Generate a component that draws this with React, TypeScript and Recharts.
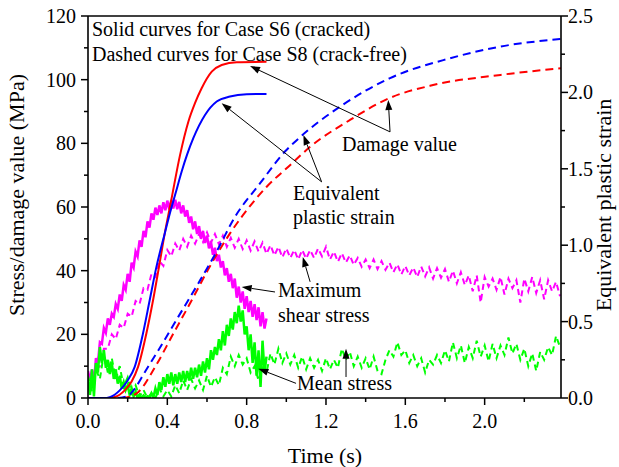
import React from 'react';
import { ComposedChart, Line, XAxis, YAxis, ReferenceLine } from 'recharts';

// ---------- axis ticks ----------
const xTicks = [0, 0.2, 0.4, 0.6, 0.8, 1.0, 1.2, 1.4, 1.6, 1.8, 2.0, 2.2];
const xMajor = [0, 0.4, 0.8, 1.2, 1.6, 2.0];
const leftTicks = [0, 10, 20, 30, 40, 50, 60, 70, 80, 90, 100, 110, 120];
const leftMajor = [0, 20, 40, 60, 80, 100, 120];
const rightTicks = [0, 0.25, 0.5, 0.75, 1.0, 1.25, 1.5, 1.75, 2.0, 2.25, 2.5];
const rightMajor = [0, 0.5, 1.0, 1.5, 2.0, 2.5];

// ---------- smooth curves ----------
// Damage value, Case S6 (red solid, left axis)
const damageS6T = [0, 0.1, 0.134, 0.185, 0.22, 0.252, 0.294, 0.328, 0.358, 0.387, 0.42, 0.464, 0.506, 0.54, 0.573, 0.624, 0.674, 0.75, 0.9];
const damageS6 = [0, 0, 0.3, 2.4, 5.2, 9.7, 20.2, 30.7, 41.2, 51.7, 62.2, 76.3, 86.8, 92.7, 97.3, 102.5, 104.6, 105.5, 105.6];
// Damage value, Case S8 (red dashed, left axis)
const damageS8T = [0.17, 0.22, 0.254, 0.338, 0.43, 0.523, 0.607, 0.716, 0.842, 0.9, 1.02, 1.12, 1.32, 1.52, 1.74, 2.08, 2.385];
const damageS8 = [0, 0.6, 1.9, 9.7, 20.2, 30.7, 40.5, 51.7, 62.2, 66.3, 73.2, 78.9, 87.3, 94.2, 98.3, 101.5, 103.6];
// Equivalent plastic strain, Case S6 (blue solid, right axis)
const strainS6T = [0, 0.08, 0.11, 0.16, 0.2, 0.235, 0.277, 0.311, 0.345, 0.387, 0.415, 0.44, 0.472, 0.5, 0.531, 0.59, 0.649, 0.716, 0.8, 0.9];
const strainS6 = [0, 0, 0.006, 0.05, 0.115, 0.202, 0.421, 0.64, 0.858, 1.077, 1.219, 1.333, 1.481, 1.594, 1.7, 1.852, 1.94, 1.973, 1.988, 1.99];
// Equivalent plastic strain, Case S8 (blue dashed, right axis)
const strainS8T = [0.15, 0.2, 0.229, 0.29, 0.355, 0.455, 0.556, 0.645, 0.741, 0.867, 0.993, 1.07, 1.27, 1.52, 1.825, 2.08, 2.385];
const strainS8 = [0, 0.012, 0.05, 0.177, 0.313, 0.531, 0.75, 0.95, 1.185, 1.404, 1.613, 1.708, 1.906, 2.092, 2.223, 2.3, 2.35];

// ---------- noisy stress records ----------
const tSolid = [
  0, 0.01, 0.02, 0.03, 0.04, 0.05, 0.06, 0.07, 0.08, 0.09,
  0.1, 0.11, 0.12, 0.13, 0.14, 0.15, 0.16, 0.17, 0.18, 0.19,
  0.2, 0.21, 0.22, 0.23, 0.24, 0.25, 0.26, 0.27, 0.28, 0.29,
  0.3, 0.31, 0.32, 0.33, 0.34, 0.35, 0.36, 0.37, 0.38, 0.39,
  0.4, 0.41, 0.42, 0.43, 0.44, 0.45, 0.46, 0.47, 0.48, 0.49,
  0.5, 0.51, 0.52, 0.53, 0.54, 0.55, 0.56, 0.57, 0.58, 0.59,
  0.6, 0.61, 0.62, 0.63, 0.64, 0.65, 0.66, 0.67, 0.68, 0.69,
  0.7, 0.71, 0.72, 0.73, 0.74, 0.75, 0.76, 0.77, 0.78, 0.79,
  0.8, 0.81, 0.82, 0.83, 0.84, 0.85, 0.86, 0.87, 0.88, 0.89,
  0.9,
];
// Maximum shear stress, Case S6 (magenta solid)
const shearS6 = [
  8.5, 5.5, 9, 4.5, 12.5, 11, 17.5, 17, 22, 20.5,
  25, 23, 26.5, 25.5, 29.5, 28, 32.5, 30.5, 35.5, 34,
  39, 36.5, 42.5, 41, 46, 44.5, 49.5, 47.5, 52.5, 50.5,
  55.5, 53.5, 58, 56, 59.8, 57.5, 60.5, 58, 61.5, 59,
  62, 59.2, 62.2, 59.5, 62.3, 59.3, 61.6, 58, 60.5, 57,
  59, 55, 57, 53, 55.5, 51.5, 54, 50, 52.5, 48.7,
  51, 47, 49, 45, 47.2, 43, 45, 41, 43, 38.5,
  40.8, 36.5, 39, 34.5, 37.5, 31.5, 35, 30, 33.5, 28,
  32, 27, 30.5, 25.5, 29.5, 24.5, 28.5, 22.5, 27, 21.8,
  25,
];
// Mean stress, Case S6 (green solid)
const meanS6 = [
  6, 1, 9, 0.5, 11, 8, 16, 11, 15, 9.5,
  12, 7.5, 11, 6, 9, 4.5, 7, 3, 5, 2.5,
  4, 1, 3, 0.5, 2, 0, 1, 0, 0.8, 0,
  0.5, 0, 1.5, 0.2, 3, 1, 5, 2.5, 6.5, 3.5,
  7.5, 4.5, 8, 4, 7.5, 4.5, 8, 5, 8.5, 5,
  8.5, 5.5, 9.5, 6, 9.5, 6.5, 10.5, 7, 11.5, 8,
  12.5, 9, 15, 12, 16, 13.5, 18.5, 15, 21, 16.5,
  23, 19.5, 25, 21.5, 27, 23.5, 29, 24, 27.5, 20,
  22.5, 15, 20, 11, 17.5, 7, 15, 3.5, 18, 8,
  13,
];

const tDash = [
  0, 0.02, 0.04, 0.06, 0.08, 0.1, 0.12, 0.14, 0.16, 0.18,
  0.2, 0.22, 0.24, 0.26, 0.28, 0.3, 0.32, 0.34, 0.36, 0.38,
  0.4, 0.42, 0.44, 0.46, 0.48, 0.5, 0.52, 0.54, 0.56, 0.58,
  0.6, 0.62, 0.64, 0.66, 0.68, 0.7, 0.72, 0.74, 0.76, 0.78,
  0.8, 0.82, 0.84, 0.86, 0.88, 0.9, 0.92, 0.94, 0.96, 0.98,
  1.0, 1.02, 1.04, 1.06, 1.08, 1.1, 1.12, 1.14, 1.16, 1.18,
  1.2, 1.22, 1.24, 1.26, 1.28, 1.3, 1.32, 1.34, 1.36, 1.38,
  1.4, 1.42, 1.44, 1.46, 1.48, 1.5, 1.52, 1.54, 1.56, 1.58,
  1.6, 1.62, 1.64, 1.66, 1.68, 1.7, 1.72, 1.74, 1.76, 1.78,
  1.8, 1.82, 1.84, 1.86, 1.88, 1.9, 1.92, 1.94, 1.96, 1.98,
  2.0, 2.02, 2.04, 2.06, 2.08, 2.1, 2.12, 2.14, 2.16, 2.18,
  2.2, 2.22, 2.24, 2.26, 2.28, 2.3, 2.32, 2.34, 2.36, 2.38,
];
// Maximum shear stress, Case S8 (magenta dashed)
const shearS8 = [
  null, null, 9, 10, 15.5, 15.5, 20, 18.5, 23, 22,
  26.5, 25.5, 30.5, 29.5, 34.5, 34, 39, 38, 43, 41.5,
  46.5, 44.5, 48.5, 46.3, 50, 47.5, 51, 48.5, 51.5, 49,
  52, 48.8, 51.5, 48.3, 51, 47.5, 50.3, 47.2, 50, 46.8,
  49.5, 46.3, 49.2, 46, 48.8, 45.3, 48, 44.8, 47.5, 44.2,
  47, 44, 46.5, 43.5, 46.5, 43.8, 46.5, 44, 47, 44.5,
  47.5, 43.5, 46, 42.8, 45.5, 42.5, 44.8, 41.8, 44, 41.2,
  43.5, 40.8, 43.5, 40.5, 43, 40.3, 42.5, 39.5, 42, 38.8,
  41.5, 38.5, 41, 38, 41.3, 38.2, 41, 37.5, 40.8, 37.8,
  40.5, 36.5, 40, 36, 39.5, 35.5, 38.5, 33.5, 38.5, 30,
  38, 35, 37.5, 34, 38, 32.5, 37.5, 34.5, 37, 30,
  37.5, 33.5, 38, 33, 37, 31, 37, 33.5, 36.5, 32,
];
// Mean stress, Case S8 (green dashed)
const meanS8 = [
  7, 2, 9, 6, 14, 8, 12.5, 6, 10, 3.5,
  6.5, 1.5, 4, 0.5, 2.5, 0, 1.5, 0, 3, 0.5,
  2.5, 0.5, 4, 1.5, 5.5, 2.5, 6, 3, 5.5, 2.5,
  7, 3.5, 6.5, 4, 9.5, 7.5, 13, 10, 13.5, 10.5,
  12.5, 8, 10, 5.5, 9.5, 8, 14, 10.5, 15.5, 11,
  14, 10.5, 13.5, 9.5, 13, 9, 12.5, 9.5, 12, 8.5,
  12.5, 9, 12, 9.5, 15.5, 12, 14.5, 10, 13, 9.5,
  12.5, 9, 13, 8.5, 7.5, 12, 15, 13, 17.5, 13.5,
  15, 11, 13.5, 10, 12.5, 8, 12, 10.5, 13.5, 11,
  15, 11.5, 17.5, 12.5, 16.5, 11, 16, 12.5, 18, 13,
  16.5, 11.5, 17, 12.5, 16.5, 13.5, 19, 14, 17, 12,
  15.5, 10, 14, 8.5, 14.5, 12, 16, 13.5, 19.5, 16,
];

// ---------- annotation arrows (data coordinates: time, left-axis value) ----------
const arrowLines = [
  { from: [1.523, 83.6], to: [0.817, 104.3] },
  { from: [1.523, 83.6], to: [1.514, 93.6] },
  { from: [1.178, 67.9], to: [0.674, 92.6] },
  { from: [1.178, 67.9], to: [1.086, 82.6] },
  { from: [0.943, 33.3], to: [0.775, 34.9] },
  { from: [1.12, 36.5], to: [1.083, 44.3] },
  { from: [1.049, 4.6], to: [0.859, 9.2] },
  { from: [1.301, 6.6], to: [1.301, 15.5] },
];

const pts = (ts: number[], vs: (number | null)[]) => ts.map((t, i) => ({ t, v: vs[i] ?? null }));

const FONT = '"Liberation Serif", "Times New Roman", Times, serif';
const AX = { stroke: '#000', strokeWidth: 1.6 };

const XTick = (p: any) => {
  const { x, y, payload } = p;
  const v = payload.value;
  const major = xMajor.includes(v);
  return (
    <g>
      <line x1={x} x2={x} y1={y} y2={y + (major ? 7 : 4)} stroke="#000" strokeWidth={1.5} />
      {major && (
        <text x={x} y={y + 30} textAnchor="middle" fontSize={20} fontFamily={FONT} fill="#000">
          {v.toFixed(1)}
        </text>
      )}
    </g>
  );
};

const LTick = (p: any) => {
  const { x, y, payload } = p;
  const v = payload.value;
  const major = leftMajor.includes(v);
  return (
    <g>
      <line x1={x - (major ? 7 : 4)} x2={x} y1={y} y2={y} stroke="#000" strokeWidth={1.5} />
      {major && (
        <text x={x - 12} y={y + 7} textAnchor="end" fontSize={20} fontFamily={FONT} fill="#000">
          {String(v)}
        </text>
      )}
    </g>
  );
};

const RTick = (p: any) => {
  const { x, y, payload } = p;
  const v = payload.value;
  const major = rightMajor.includes(v);
  return (
    <g>
      <line x1={x} x2={x + (major ? 7 : 4)} y1={y} y2={y} stroke="#000" strokeWidth={1.5} />
      {major && (
        <text x={x + 7} y={y + 7} textAnchor="start" fontSize={20} fontFamily={FONT} fill="#000">
          {v.toFixed(1)}
        </text>
      )}
    </g>
  );
};

const ArrowShape = (p: any) => {
  const { x1, y1, x2, y2 } = p;
  if ([x1, y1, x2, y2].some((n) => typeof n !== 'number' || isNaN(n))) return <g />;
  const dx = x2 - x1;
  const dy = y2 - y1;
  const L = Math.hypot(dx, dy) || 1;
  const ux = dx / L;
  const uy = dy / L;
  const hl = 10;
  const hw = 3.5;
  const bx = x2 - ux * hl;
  const by = y2 - uy * hl;
  return (
    <g>
      <line x1={x1} y1={y1} x2={bx} y2={by} stroke="#000" strokeWidth={1} />
      <polygon
        points={`${x2},${y2} ${bx - uy * hw},${by + ux * hw} ${bx + uy * hw},${by - ux * hw}`}
        fill="#000"
      />
    </g>
  );
};

const texts = [
  { x: 92, y: 36, s: 'Solid curves for Case S6 (cracked)' },
  { x: 92, y: 61, s: 'Dashed curves for Case S8 (crack-free)' },
  { x: 342, y: 151, s: 'Damage value' },
  { x: 293, y: 200, s: 'Equivalent' },
  { x: 293, y: 224, s: 'plastic strain' },
  { x: 278, y: 297, s: 'Maximum' },
  { x: 278, y: 322, s: 'shear stress' },
  { x: 297, y: 390, s: 'Mean stress' },
];

export default function App() {
  return (
    <div style={{ position: 'absolute', left: 0, top: 0, width: 619, height: 467, background: '#fff', fontFamily: FONT }}>
      <ComposedChart width={619} height={467} margin={{ top: 16, right: 0, bottom: 0, left: 0 }} style={{ fontFamily: FONT }}>
        <XAxis
          dataKey="t"
          type="number"
          domain={[0, 2.385]}
          allowDataOverflow
          ticks={xTicks}
          interval={0}
          tick={(p: any) => <XTick {...p} />}
          tickLine={false}
          tickSize={0}
          tickMargin={0}
          height={69}
          axisLine={AX}
        />
        <YAxis
          yAxisId="left"
          type="number"
          domain={[0, 120]}
          allowDataOverflow
          ticks={leftTicks}
          interval={0}
          tick={(p: any) => <LTick {...p} />}
          tickLine={false}
          tickSize={0}
          tickMargin={0}
          width={88}
          axisLine={AX}
        />
        <YAxis
          yAxisId="right"
          orientation="right"
          type="number"
          domain={[0, 2.5]}
          allowDataOverflow
          ticks={rightTicks}
          interval={0}
          tick={(p: any) => <RTick {...p} />}
          tickLine={false}
          tickSize={0}
          tickMargin={0}
          width={58}
          axisLine={AX}
        />
        <ReferenceLine yAxisId="left" y={120} stroke="#000" strokeWidth={1.6} ifOverflow="visible" />

        <Line data={pts(tSolid, shearS6)} dataKey="v" yAxisId="left" type="linear" stroke="#FF00FF" strokeWidth={2.5} dot={false} activeDot={false} isAnimationActive={false} />
        <Line data={pts(tDash, shearS8)} dataKey="v" yAxisId="left" type="linear" stroke="#FF00FF" strokeWidth={2} strokeDasharray="6 4" dot={false} activeDot={false} isAnimationActive={false} />
        <Line data={pts(tSolid, meanS6)} dataKey="v" yAxisId="left" type="linear" stroke="#00FF00" strokeWidth={2.5} dot={false} activeDot={false} isAnimationActive={false} />
        <Line data={pts(tDash, meanS8)} dataKey="v" yAxisId="left" type="linear" stroke="#00FF00" strokeWidth={2} strokeDasharray="6 4" dot={false} activeDot={false} isAnimationActive={false} />
        <Line data={pts(damageS8T, damageS8)} dataKey="v" yAxisId="left" type="monotone" stroke="#FF0000" strokeWidth={2} strokeDasharray="8 5" dot={false} activeDot={false} isAnimationActive={false} />
        <Line data={pts(strainS8T, strainS8)} dataKey="v" yAxisId="right" type="monotone" stroke="#0000FF" strokeWidth={2} strokeDasharray="8 5" dot={false} activeDot={false} isAnimationActive={false} />
        <Line data={pts(damageS6T, damageS6)} dataKey="v" yAxisId="left" type="monotone" stroke="#FF0000" strokeWidth={2} dot={false} activeDot={false} isAnimationActive={false} />
        <Line data={pts(strainS6T, strainS6)} dataKey="v" yAxisId="right" type="monotone" stroke="#0000FF" strokeWidth={2} dot={false} activeDot={false} isAnimationActive={false} />

        {arrowLines.map((a, i) => (
          <ReferenceLine
            key={i}
            yAxisId="left"
            ifOverflow="visible"
            segment={[{ x: a.from[0], y: a.from[1] }, { x: a.to[0], y: a.to[1] }]}
            shape={(p: any) => <ArrowShape {...p} />}
          />
        ))}
      </ComposedChart>
      <svg width={619} height={467} style={{ position: 'absolute', left: 0, top: 0, pointerEvents: 'none' }}>
        <g fontFamily={FONT} fill="#000">
          {texts.map((t, i) => (
            <text key={i} x={t.x} y={t.y} fontSize={20}>{t.s}</text>
          ))}
          <text x={325} y={463} textAnchor="middle" fontSize={22}>Time (s)</text>
          <text transform="translate(24,195) rotate(-90)" textAnchor="middle" fontSize={22}>Stress/damage value (MPa)</text>
          <text transform="translate(611,205) rotate(-90)" textAnchor="middle" fontSize={22}>Equivalent plastic strain</text>
        </g>
      </svg>
    </div>
  );
}
